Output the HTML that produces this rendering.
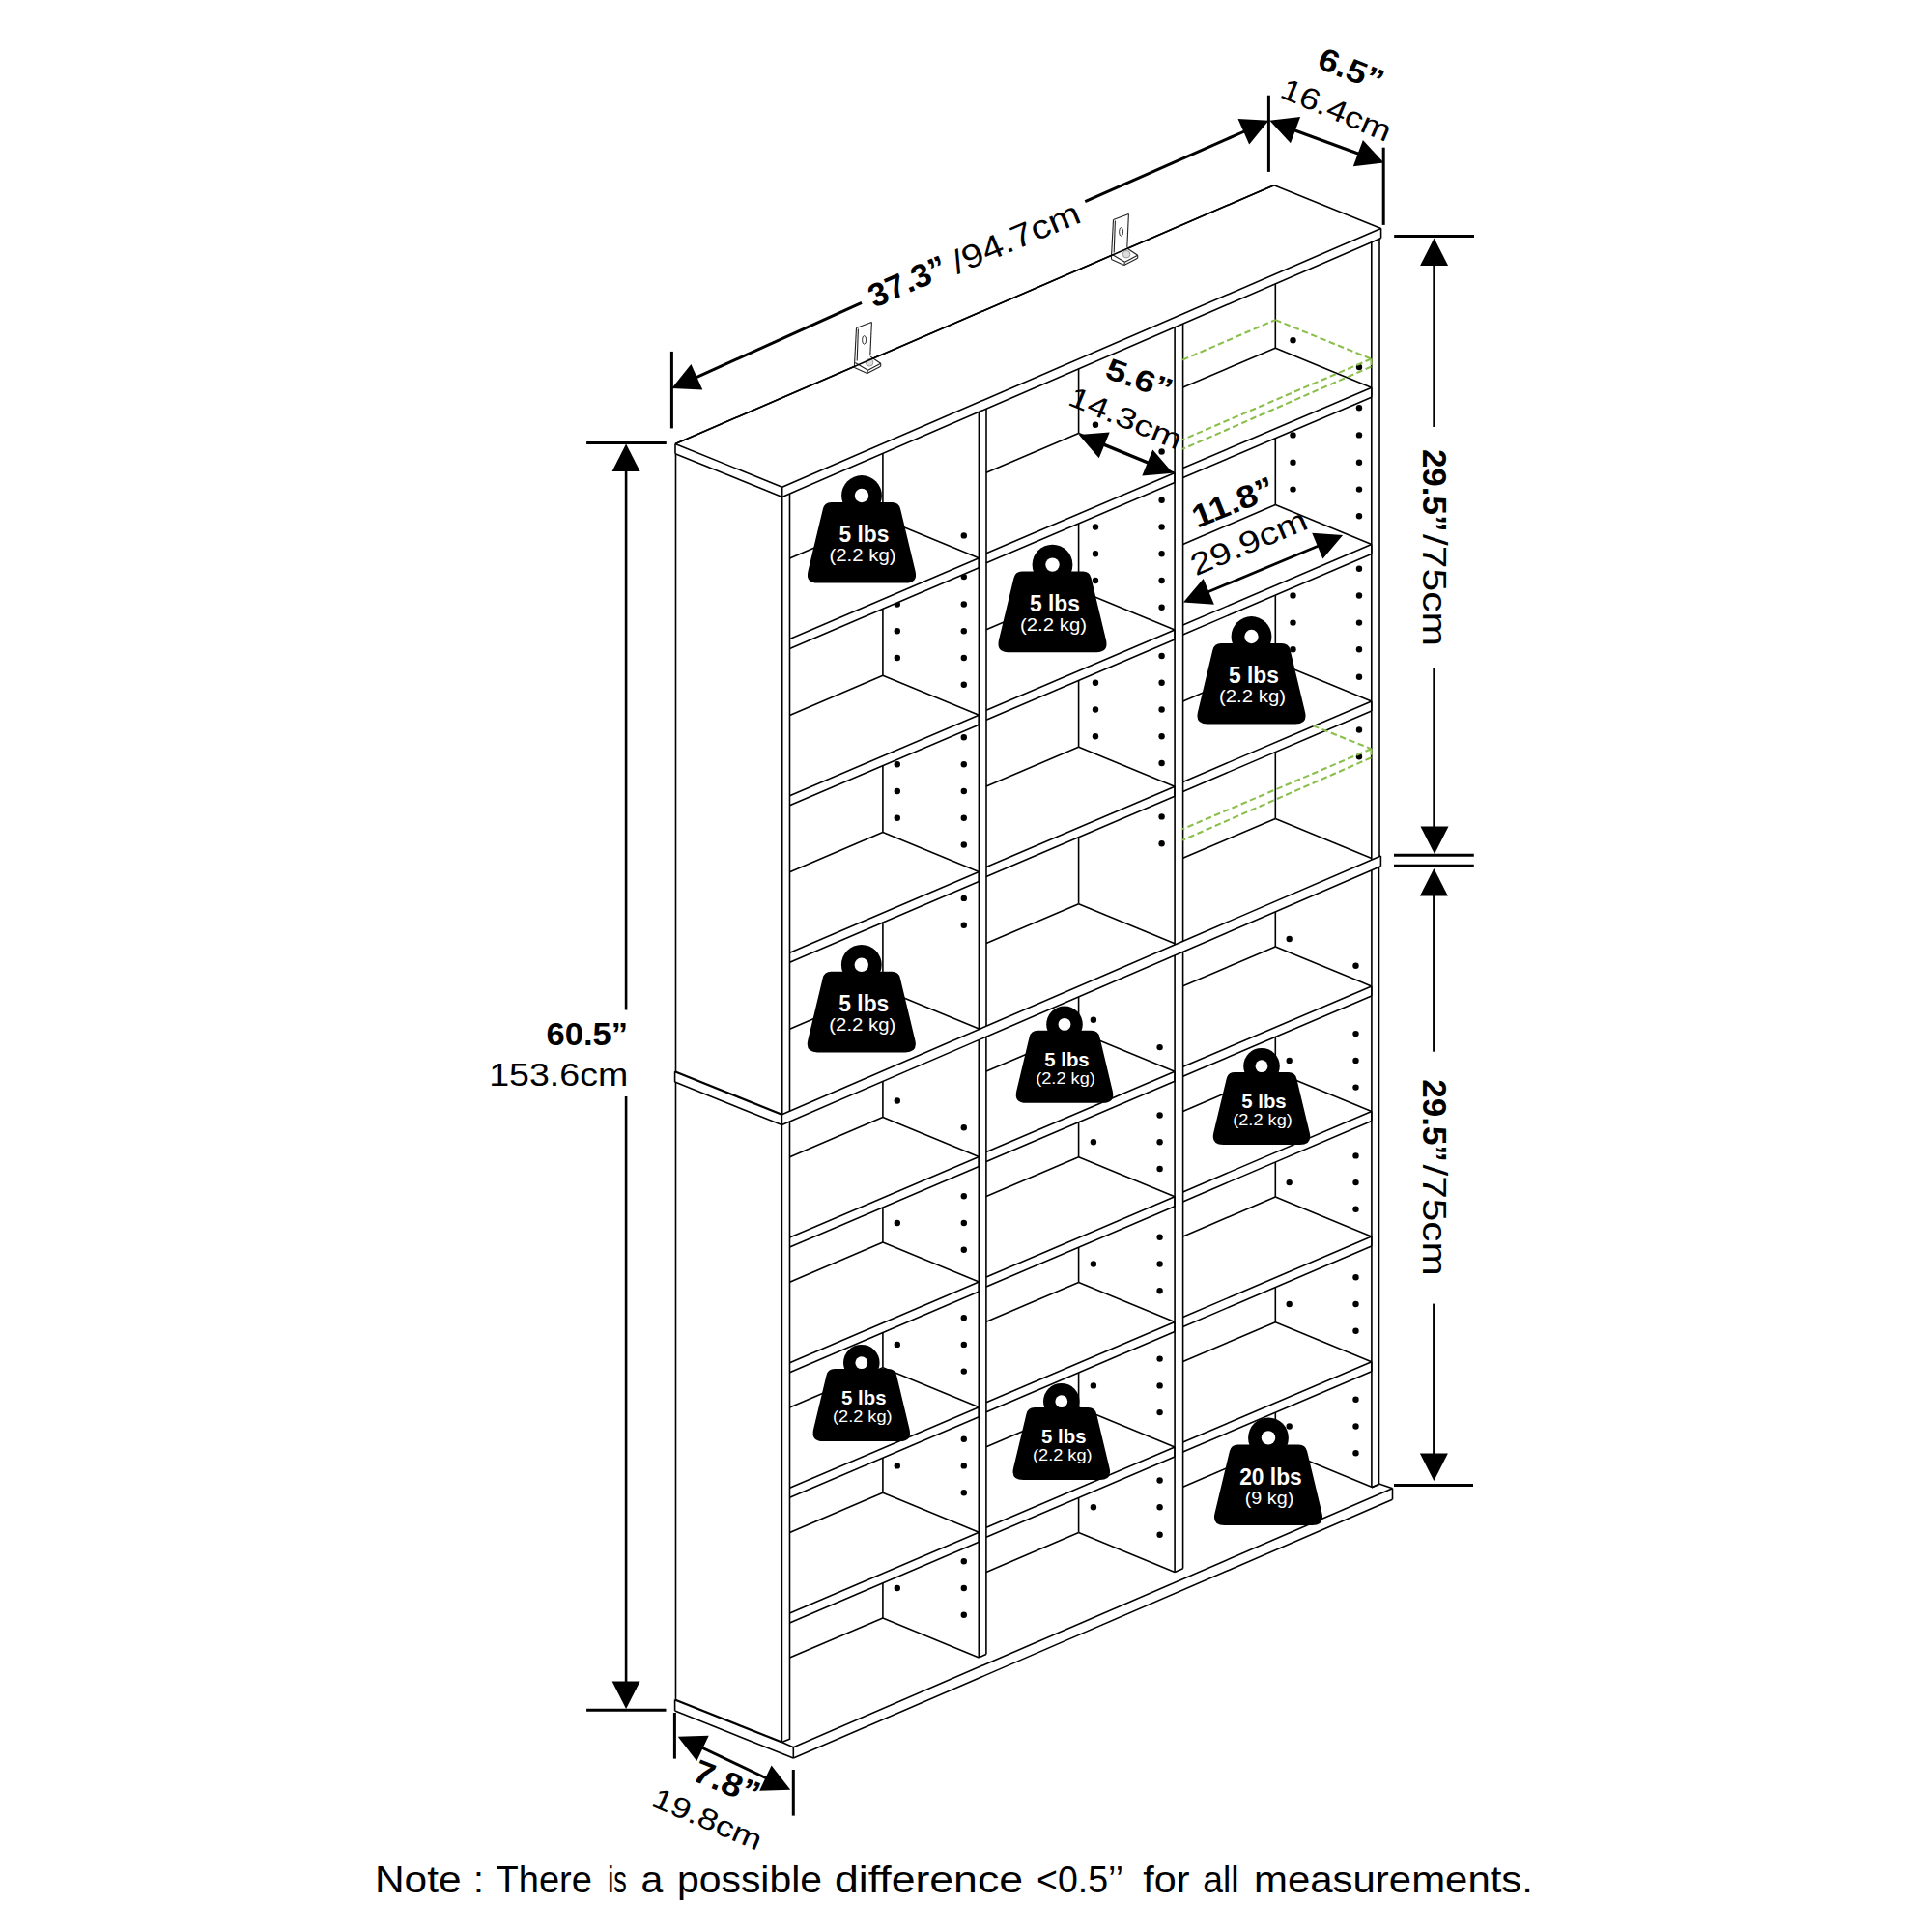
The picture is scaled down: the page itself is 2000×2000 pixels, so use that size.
<!DOCTYPE html>
<html><head><meta charset="utf-8"><title>Bookshelf dimensions</title>
<style>html,body{margin:0;padding:0;background:#fff;width:2000px;height:2000px;overflow:hidden}svg{display:block}</style>
</head><body>
<svg width="2000" height="2000" viewBox="0 0 2000 2000"><rect x="0" y="0" width="2000" height="2000" fill="#fff"/>
<line x1="913.9" y1="469.4" x2="913.9" y2="1024" stroke="#000" stroke-width="1.6"/>
<line x1="913.9" y1="1119.5" x2="913.9" y2="1674.9" stroke="#000" stroke-width="1.6"/>
<line x1="1116.6" y1="381.8" x2="1116.6" y2="935.7" stroke="#000" stroke-width="1.6"/>
<line x1="1116.6" y1="1031.9" x2="1116.6" y2="1586.6" stroke="#000" stroke-width="1.6"/>
<line x1="1320.3" y1="293.8" x2="1320.3" y2="847.4" stroke="#000" stroke-width="1.6"/>
<line x1="1320.3" y1="943.9" x2="1320.3" y2="1498.3" stroke="#000" stroke-width="1.6"/>
<circle cx="997.8" cy="554.4" r="3.2" fill="#000"/>
<circle cx="997.8" cy="597.1" r="3.2" fill="#000"/>
<circle cx="997.8" cy="625.5" r="3.2" fill="#000"/>
<circle cx="997.8" cy="653.2" r="3.2" fill="#000"/>
<circle cx="997.8" cy="681" r="3.2" fill="#000"/>
<circle cx="997.8" cy="708.7" r="3.2" fill="#000"/>
<circle cx="997.8" cy="763.2" r="3.2" fill="#000"/>
<circle cx="997.8" cy="791.2" r="3.2" fill="#000"/>
<circle cx="997.8" cy="819" r="3.2" fill="#000"/>
<circle cx="997.8" cy="846.7" r="3.2" fill="#000"/>
<circle cx="997.8" cy="874.5" r="3.2" fill="#000"/>
<circle cx="997.8" cy="929.9" r="3.2" fill="#000"/>
<circle cx="997.8" cy="957.7" r="3.2" fill="#000"/>
<circle cx="928.8" cy="625.5" r="3.2" fill="#000"/>
<circle cx="928.8" cy="653.2" r="3.2" fill="#000"/>
<circle cx="928.8" cy="681" r="3.2" fill="#000"/>
<circle cx="928.8" cy="791.2" r="3.2" fill="#000"/>
<circle cx="928.8" cy="819" r="3.2" fill="#000"/>
<circle cx="928.8" cy="846.7" r="3.2" fill="#000"/>
<circle cx="1202.6" cy="467.5" r="3.2" fill="#000"/>
<circle cx="1202.6" cy="517.8" r="3.2" fill="#000"/>
<circle cx="1202.6" cy="545.5" r="3.2" fill="#000"/>
<circle cx="1202.6" cy="573.2" r="3.2" fill="#000"/>
<circle cx="1202.6" cy="601" r="3.2" fill="#000"/>
<circle cx="1202.6" cy="628.7" r="3.2" fill="#000"/>
<circle cx="1202.6" cy="679" r="3.2" fill="#000"/>
<circle cx="1202.6" cy="706.7" r="3.2" fill="#000"/>
<circle cx="1202.6" cy="734.5" r="3.2" fill="#000"/>
<circle cx="1202.6" cy="762.2" r="3.2" fill="#000"/>
<circle cx="1202.6" cy="790" r="3.2" fill="#000"/>
<circle cx="1202.6" cy="845.4" r="3.2" fill="#000"/>
<circle cx="1202.6" cy="873.2" r="3.2" fill="#000"/>
<circle cx="1134" cy="439.8" r="3.2" fill="#000"/>
<circle cx="1134" cy="545.5" r="3.2" fill="#000"/>
<circle cx="1134" cy="573.2" r="3.2" fill="#000"/>
<circle cx="1134" cy="601" r="3.2" fill="#000"/>
<circle cx="1134" cy="706.7" r="3.2" fill="#000"/>
<circle cx="1134" cy="734.5" r="3.2" fill="#000"/>
<circle cx="1134" cy="762.2" r="3.2" fill="#000"/>
<circle cx="1407" cy="380" r="3.2" fill="#000"/>
<circle cx="1407" cy="422.3" r="3.2" fill="#000"/>
<circle cx="1407" cy="450.4" r="3.2" fill="#000"/>
<circle cx="1407" cy="478.8" r="3.2" fill="#000"/>
<circle cx="1407" cy="506.6" r="3.2" fill="#000"/>
<circle cx="1407" cy="534.3" r="3.2" fill="#000"/>
<circle cx="1407" cy="588.8" r="3.2" fill="#000"/>
<circle cx="1407" cy="616.5" r="3.2" fill="#000"/>
<circle cx="1407" cy="644.6" r="3.2" fill="#000"/>
<circle cx="1407" cy="672.3" r="3.2" fill="#000"/>
<circle cx="1407" cy="700.8" r="3.2" fill="#000"/>
<circle cx="1407" cy="755.5" r="3.2" fill="#000"/>
<circle cx="1407" cy="783.3" r="3.2" fill="#000"/>
<circle cx="1338.5" cy="352.3" r="3.2" fill="#000"/>
<circle cx="1338.5" cy="450.4" r="3.2" fill="#000"/>
<circle cx="1338.5" cy="478.8" r="3.2" fill="#000"/>
<circle cx="1338.5" cy="506.6" r="3.2" fill="#000"/>
<circle cx="1338.5" cy="616.5" r="3.2" fill="#000"/>
<circle cx="1338.5" cy="644.6" r="3.2" fill="#000"/>
<circle cx="1338.5" cy="672.3" r="3.2" fill="#000"/>
<circle cx="997.8" cy="1167.2" r="3.2" fill="#000"/>
<circle cx="997.8" cy="1238.3" r="3.2" fill="#000"/>
<circle cx="997.8" cy="1266" r="3.2" fill="#000"/>
<circle cx="997.8" cy="1293.8" r="3.2" fill="#000"/>
<circle cx="997.8" cy="1364.2" r="3.2" fill="#000"/>
<circle cx="997.8" cy="1391.9" r="3.2" fill="#000"/>
<circle cx="997.8" cy="1419.6" r="3.2" fill="#000"/>
<circle cx="997.8" cy="1489.7" r="3.2" fill="#000"/>
<circle cx="997.8" cy="1517.4" r="3.2" fill="#000"/>
<circle cx="997.8" cy="1545.2" r="3.2" fill="#000"/>
<circle cx="997.8" cy="1616.2" r="3.2" fill="#000"/>
<circle cx="997.8" cy="1644" r="3.2" fill="#000"/>
<circle cx="997.8" cy="1671.7" r="3.2" fill="#000"/>
<circle cx="928.8" cy="1139.5" r="3.2" fill="#000"/>
<circle cx="928.8" cy="1266" r="3.2" fill="#000"/>
<circle cx="928.8" cy="1391.9" r="3.2" fill="#000"/>
<circle cx="928.8" cy="1517.4" r="3.2" fill="#000"/>
<circle cx="928.8" cy="1644" r="3.2" fill="#000"/>
<circle cx="1200.6" cy="1084.1" r="3.2" fill="#000"/>
<circle cx="1200.6" cy="1154.5" r="3.2" fill="#000"/>
<circle cx="1200.6" cy="1182.3" r="3.2" fill="#000"/>
<circle cx="1200.6" cy="1210" r="3.2" fill="#000"/>
<circle cx="1200.6" cy="1280.7" r="3.2" fill="#000"/>
<circle cx="1200.6" cy="1308.5" r="3.2" fill="#000"/>
<circle cx="1200.6" cy="1336.2" r="3.2" fill="#000"/>
<circle cx="1200.6" cy="1406.6" r="3.2" fill="#000"/>
<circle cx="1200.6" cy="1434.4" r="3.2" fill="#000"/>
<circle cx="1200.6" cy="1462.1" r="3.2" fill="#000"/>
<circle cx="1200.6" cy="1532.5" r="3.2" fill="#000"/>
<circle cx="1200.6" cy="1560.2" r="3.2" fill="#000"/>
<circle cx="1200.6" cy="1588.7" r="3.2" fill="#000"/>
<circle cx="1131.9" cy="1055.7" r="3.2" fill="#000"/>
<circle cx="1131.9" cy="1182.3" r="3.2" fill="#000"/>
<circle cx="1131.9" cy="1308.5" r="3.2" fill="#000"/>
<circle cx="1131.9" cy="1434.4" r="3.2" fill="#000"/>
<circle cx="1131.9" cy="1560.2" r="3.2" fill="#000"/>
<circle cx="1403.5" cy="999.8" r="3.2" fill="#000"/>
<circle cx="1403.5" cy="1070.1" r="3.2" fill="#000"/>
<circle cx="1403.5" cy="1097.9" r="3.2" fill="#000"/>
<circle cx="1403.5" cy="1125.6" r="3.2" fill="#000"/>
<circle cx="1403.5" cy="1196.4" r="3.2" fill="#000"/>
<circle cx="1403.5" cy="1224.1" r="3.2" fill="#000"/>
<circle cx="1403.5" cy="1251.8" r="3.2" fill="#000"/>
<circle cx="1403.5" cy="1322.2" r="3.2" fill="#000"/>
<circle cx="1403.5" cy="1350" r="3.2" fill="#000"/>
<circle cx="1403.5" cy="1377.7" r="3.2" fill="#000"/>
<circle cx="1403.5" cy="1448.8" r="3.2" fill="#000"/>
<circle cx="1403.5" cy="1476.5" r="3.2" fill="#000"/>
<circle cx="1403.5" cy="1504.2" r="3.2" fill="#000"/>
<circle cx="1334.7" cy="972" r="3.2" fill="#000"/>
<circle cx="1334.7" cy="1097.9" r="3.2" fill="#000"/>
<circle cx="1334.7" cy="1224.1" r="3.2" fill="#000"/>
<circle cx="1334.7" cy="1350" r="3.2" fill="#000"/>
<circle cx="1334.7" cy="1476.5" r="3.2" fill="#000"/>
<polygon points="817.5,578 913.9,536.8 1013.4,577.8 1013.4,587.8 817.5,671.4" fill="#fff" stroke="none" stroke-width="1.4"/>
<line x1="817.5" y1="578" x2="913.9" y2="536.8" stroke="#000" stroke-width="1.6"/>
<line x1="913.9" y1="536.8" x2="1013.4" y2="577.8" stroke="#000" stroke-width="1.6"/>
<line x1="1013.4" y1="577.8" x2="817.5" y2="661.4" stroke="#000" stroke-width="1.6"/>
<line x1="1013.4" y1="577.8" x2="1013.4" y2="587.8" stroke="#000" stroke-width="1.6"/>
<line x1="1013.4" y1="587.8" x2="817.5" y2="671.4" stroke="#000" stroke-width="1.6"/>
<polygon points="817.5,740.4 913.9,699.2 1013.4,740.2 1013.4,750.2 817.5,833.8" fill="#fff" stroke="none" stroke-width="1.4"/>
<line x1="817.5" y1="740.4" x2="913.9" y2="699.2" stroke="#000" stroke-width="1.6"/>
<line x1="913.9" y1="699.2" x2="1013.4" y2="740.2" stroke="#000" stroke-width="1.6"/>
<line x1="1013.4" y1="740.2" x2="817.5" y2="823.8" stroke="#000" stroke-width="1.6"/>
<line x1="1013.4" y1="740.2" x2="1013.4" y2="750.2" stroke="#000" stroke-width="1.6"/>
<line x1="1013.4" y1="750.2" x2="817.5" y2="833.8" stroke="#000" stroke-width="1.6"/>
<polygon points="817.5,902.8 913.9,861.6 1013.4,902.6 1013.4,912.6 817.5,996.2" fill="#fff" stroke="none" stroke-width="1.4"/>
<line x1="817.5" y1="902.8" x2="913.9" y2="861.6" stroke="#000" stroke-width="1.6"/>
<line x1="913.9" y1="861.6" x2="1013.4" y2="902.6" stroke="#000" stroke-width="1.6"/>
<line x1="1013.4" y1="902.6" x2="817.5" y2="986.2" stroke="#000" stroke-width="1.6"/>
<line x1="1013.4" y1="902.6" x2="1013.4" y2="912.6" stroke="#000" stroke-width="1.6"/>
<line x1="1013.4" y1="912.6" x2="817.5" y2="996.2" stroke="#000" stroke-width="1.6"/>
<polygon points="817.5,1065.2 913.9,1024 1013.4,1065 817.5,1148.6" fill="#fff" stroke="none" stroke-width="1.4"/>
<line x1="817.5" y1="1065.2" x2="913.9" y2="1024" stroke="#000" stroke-width="1.6"/>
<line x1="913.9" y1="1024" x2="1013.4" y2="1065" stroke="#000" stroke-width="1.6"/>
<polygon points="817.5,1197.7 913.9,1156.5 1013.4,1197.5 1013.4,1207.5 817.5,1291.1" fill="#fff" stroke="none" stroke-width="1.4"/>
<line x1="817.5" y1="1197.7" x2="913.9" y2="1156.5" stroke="#000" stroke-width="1.6"/>
<line x1="913.9" y1="1156.5" x2="1013.4" y2="1197.5" stroke="#000" stroke-width="1.6"/>
<line x1="1013.4" y1="1197.5" x2="817.5" y2="1281.1" stroke="#000" stroke-width="1.6"/>
<line x1="1013.4" y1="1197.5" x2="1013.4" y2="1207.5" stroke="#000" stroke-width="1.6"/>
<line x1="1013.4" y1="1207.5" x2="817.5" y2="1291.1" stroke="#000" stroke-width="1.6"/>
<polygon points="817.5,1327.3 913.9,1286.1 1013.4,1327.1 1013.4,1337.1 817.5,1420.7" fill="#fff" stroke="none" stroke-width="1.4"/>
<line x1="817.5" y1="1327.3" x2="913.9" y2="1286.1" stroke="#000" stroke-width="1.6"/>
<line x1="913.9" y1="1286.1" x2="1013.4" y2="1327.1" stroke="#000" stroke-width="1.6"/>
<line x1="1013.4" y1="1327.1" x2="817.5" y2="1410.7" stroke="#000" stroke-width="1.6"/>
<line x1="1013.4" y1="1327.1" x2="1013.4" y2="1337.1" stroke="#000" stroke-width="1.6"/>
<line x1="1013.4" y1="1337.1" x2="817.5" y2="1420.7" stroke="#000" stroke-width="1.6"/>
<polygon points="817.5,1456.9 913.9,1415.7 1013.4,1456.7 1013.4,1466.7 817.5,1550.3" fill="#fff" stroke="none" stroke-width="1.4"/>
<line x1="817.5" y1="1456.9" x2="913.9" y2="1415.7" stroke="#000" stroke-width="1.6"/>
<line x1="913.9" y1="1415.7" x2="1013.4" y2="1456.7" stroke="#000" stroke-width="1.6"/>
<line x1="1013.4" y1="1456.7" x2="817.5" y2="1540.3" stroke="#000" stroke-width="1.6"/>
<line x1="1013.4" y1="1456.7" x2="1013.4" y2="1466.7" stroke="#000" stroke-width="1.6"/>
<line x1="1013.4" y1="1466.7" x2="817.5" y2="1550.3" stroke="#000" stroke-width="1.6"/>
<polygon points="817.5,1586.5 913.9,1545.3 1013.4,1586.3 1013.4,1596.3 817.5,1679.9" fill="#fff" stroke="none" stroke-width="1.4"/>
<line x1="817.5" y1="1586.5" x2="913.9" y2="1545.3" stroke="#000" stroke-width="1.6"/>
<line x1="913.9" y1="1545.3" x2="1013.4" y2="1586.3" stroke="#000" stroke-width="1.6"/>
<line x1="1013.4" y1="1586.3" x2="817.5" y2="1669.9" stroke="#000" stroke-width="1.6"/>
<line x1="1013.4" y1="1586.3" x2="1013.4" y2="1596.3" stroke="#000" stroke-width="1.6"/>
<line x1="1013.4" y1="1596.3" x2="817.5" y2="1679.9" stroke="#000" stroke-width="1.6"/>
<polygon points="817.5,1716.1 913.9,1674.9 1013.4,1715.9 817.5,1799.5" fill="#fff" stroke="none" stroke-width="1.4"/>
<line x1="817.5" y1="1716.1" x2="913.9" y2="1674.9" stroke="#000" stroke-width="1.6"/>
<line x1="913.9" y1="1674.9" x2="1013.4" y2="1715.9" stroke="#000" stroke-width="1.6"/>
<polygon points="1021,489.3 1116.6,448.5 1216.1,489.5 1216.1,499.5 1021,582.8" fill="#fff" stroke="none" stroke-width="1.4"/>
<line x1="1021" y1="489.3" x2="1116.6" y2="448.5" stroke="#000" stroke-width="1.6"/>
<line x1="1116.6" y1="448.5" x2="1216.1" y2="489.5" stroke="#000" stroke-width="1.6"/>
<line x1="1216.1" y1="489.5" x2="1021" y2="572.8" stroke="#000" stroke-width="1.6"/>
<line x1="1216.1" y1="489.5" x2="1216.1" y2="499.5" stroke="#000" stroke-width="1.6"/>
<line x1="1216.1" y1="499.5" x2="1021" y2="582.8" stroke="#000" stroke-width="1.6"/>
<polygon points="1021,651.7 1116.6,610.9 1216.1,651.9 1216.1,661.9 1021,745.2" fill="#fff" stroke="none" stroke-width="1.4"/>
<line x1="1021" y1="651.7" x2="1116.6" y2="610.9" stroke="#000" stroke-width="1.6"/>
<line x1="1116.6" y1="610.9" x2="1216.1" y2="651.9" stroke="#000" stroke-width="1.6"/>
<line x1="1216.1" y1="651.9" x2="1021" y2="735.2" stroke="#000" stroke-width="1.6"/>
<line x1="1216.1" y1="651.9" x2="1216.1" y2="661.9" stroke="#000" stroke-width="1.6"/>
<line x1="1216.1" y1="661.9" x2="1021" y2="745.2" stroke="#000" stroke-width="1.6"/>
<polygon points="1021,814.1 1116.6,773.3 1216.1,814.3 1216.1,824.3 1021,907.6" fill="#fff" stroke="none" stroke-width="1.4"/>
<line x1="1021" y1="814.1" x2="1116.6" y2="773.3" stroke="#000" stroke-width="1.6"/>
<line x1="1116.6" y1="773.3" x2="1216.1" y2="814.3" stroke="#000" stroke-width="1.6"/>
<line x1="1216.1" y1="814.3" x2="1021" y2="897.6" stroke="#000" stroke-width="1.6"/>
<line x1="1216.1" y1="814.3" x2="1216.1" y2="824.3" stroke="#000" stroke-width="1.6"/>
<line x1="1216.1" y1="824.3" x2="1021" y2="907.6" stroke="#000" stroke-width="1.6"/>
<polygon points="1021,976.5 1116.6,935.7 1216.1,976.7 1021,1060" fill="#fff" stroke="none" stroke-width="1.4"/>
<line x1="1021" y1="976.5" x2="1116.6" y2="935.7" stroke="#000" stroke-width="1.6"/>
<line x1="1116.6" y1="935.7" x2="1216.1" y2="976.7" stroke="#000" stroke-width="1.6"/>
<polygon points="1021,1109 1116.6,1068.2 1216.1,1109.2 1216.1,1119.2 1021,1202.5" fill="#fff" stroke="none" stroke-width="1.4"/>
<line x1="1021" y1="1109" x2="1116.6" y2="1068.2" stroke="#000" stroke-width="1.6"/>
<line x1="1116.6" y1="1068.2" x2="1216.1" y2="1109.2" stroke="#000" stroke-width="1.6"/>
<line x1="1216.1" y1="1109.2" x2="1021" y2="1192.5" stroke="#000" stroke-width="1.6"/>
<line x1="1216.1" y1="1109.2" x2="1216.1" y2="1119.2" stroke="#000" stroke-width="1.6"/>
<line x1="1216.1" y1="1119.2" x2="1021" y2="1202.5" stroke="#000" stroke-width="1.6"/>
<polygon points="1021,1238.6 1116.6,1197.8 1216.1,1238.8 1216.1,1248.8 1021,1332.1" fill="#fff" stroke="none" stroke-width="1.4"/>
<line x1="1021" y1="1238.6" x2="1116.6" y2="1197.8" stroke="#000" stroke-width="1.6"/>
<line x1="1116.6" y1="1197.8" x2="1216.1" y2="1238.8" stroke="#000" stroke-width="1.6"/>
<line x1="1216.1" y1="1238.8" x2="1021" y2="1322.1" stroke="#000" stroke-width="1.6"/>
<line x1="1216.1" y1="1238.8" x2="1216.1" y2="1248.8" stroke="#000" stroke-width="1.6"/>
<line x1="1216.1" y1="1248.8" x2="1021" y2="1332.1" stroke="#000" stroke-width="1.6"/>
<polygon points="1021,1368.2 1116.6,1327.4 1216.1,1368.4 1216.1,1378.4 1021,1461.7" fill="#fff" stroke="none" stroke-width="1.4"/>
<line x1="1021" y1="1368.2" x2="1116.6" y2="1327.4" stroke="#000" stroke-width="1.6"/>
<line x1="1116.6" y1="1327.4" x2="1216.1" y2="1368.4" stroke="#000" stroke-width="1.6"/>
<line x1="1216.1" y1="1368.4" x2="1021" y2="1451.7" stroke="#000" stroke-width="1.6"/>
<line x1="1216.1" y1="1368.4" x2="1216.1" y2="1378.4" stroke="#000" stroke-width="1.6"/>
<line x1="1216.1" y1="1378.4" x2="1021" y2="1461.7" stroke="#000" stroke-width="1.6"/>
<polygon points="1021,1497.8 1116.6,1457 1216.1,1498 1216.1,1508 1021,1591.3" fill="#fff" stroke="none" stroke-width="1.4"/>
<line x1="1021" y1="1497.8" x2="1116.6" y2="1457" stroke="#000" stroke-width="1.6"/>
<line x1="1116.6" y1="1457" x2="1216.1" y2="1498" stroke="#000" stroke-width="1.6"/>
<line x1="1216.1" y1="1498" x2="1021" y2="1581.3" stroke="#000" stroke-width="1.6"/>
<line x1="1216.1" y1="1498" x2="1216.1" y2="1508" stroke="#000" stroke-width="1.6"/>
<line x1="1216.1" y1="1508" x2="1021" y2="1591.3" stroke="#000" stroke-width="1.6"/>
<polygon points="1021,1627.4 1116.6,1586.6 1216.1,1627.6 1021,1710.9" fill="#fff" stroke="none" stroke-width="1.4"/>
<line x1="1021" y1="1627.4" x2="1116.6" y2="1586.6" stroke="#000" stroke-width="1.6"/>
<line x1="1116.6" y1="1586.6" x2="1216.1" y2="1627.6" stroke="#000" stroke-width="1.6"/>
<polygon points="1224.6,401.1 1320.3,360.2 1419.8,401.2 1419.8,411.2 1224.6,494.6" fill="#fff" stroke="none" stroke-width="1.4"/>
<line x1="1224.6" y1="401.1" x2="1320.3" y2="360.2" stroke="#000" stroke-width="1.6"/>
<line x1="1320.3" y1="360.2" x2="1419.8" y2="401.2" stroke="#000" stroke-width="1.6"/>
<line x1="1419.8" y1="401.2" x2="1224.6" y2="484.6" stroke="#000" stroke-width="1.6"/>
<line x1="1419.8" y1="401.2" x2="1419.8" y2="411.2" stroke="#000" stroke-width="1.6"/>
<line x1="1419.8" y1="411.2" x2="1224.6" y2="494.6" stroke="#000" stroke-width="1.6"/>
<polygon points="1224.6,563.5 1320.3,522.6 1419.8,563.6 1419.8,573.6 1224.6,657" fill="#fff" stroke="none" stroke-width="1.4"/>
<line x1="1224.6" y1="563.5" x2="1320.3" y2="522.6" stroke="#000" stroke-width="1.6"/>
<line x1="1320.3" y1="522.6" x2="1419.8" y2="563.6" stroke="#000" stroke-width="1.6"/>
<line x1="1419.8" y1="563.6" x2="1224.6" y2="647" stroke="#000" stroke-width="1.6"/>
<line x1="1419.8" y1="563.6" x2="1419.8" y2="573.6" stroke="#000" stroke-width="1.6"/>
<line x1="1419.8" y1="573.6" x2="1224.6" y2="657" stroke="#000" stroke-width="1.6"/>
<polygon points="1224.6,725.9 1320.3,685 1419.8,726 1419.8,736 1224.6,819.4" fill="#fff" stroke="none" stroke-width="1.4"/>
<line x1="1224.6" y1="725.9" x2="1320.3" y2="685" stroke="#000" stroke-width="1.6"/>
<line x1="1320.3" y1="685" x2="1419.8" y2="726" stroke="#000" stroke-width="1.6"/>
<line x1="1419.8" y1="726" x2="1224.6" y2="809.4" stroke="#000" stroke-width="1.6"/>
<line x1="1419.8" y1="726" x2="1419.8" y2="736" stroke="#000" stroke-width="1.6"/>
<line x1="1419.8" y1="736" x2="1224.6" y2="819.4" stroke="#000" stroke-width="1.6"/>
<polygon points="1224.6,888.3 1320.3,847.4 1419.8,888.4 1224.6,971.8" fill="#fff" stroke="none" stroke-width="1.4"/>
<line x1="1224.6" y1="888.3" x2="1320.3" y2="847.4" stroke="#000" stroke-width="1.6"/>
<line x1="1320.3" y1="847.4" x2="1419.8" y2="888.4" stroke="#000" stroke-width="1.6"/>
<polygon points="1224.6,1020.8 1320.3,979.9 1419.8,1020.9 1419.8,1030.9 1224.6,1114.3" fill="#fff" stroke="none" stroke-width="1.4"/>
<line x1="1224.6" y1="1020.8" x2="1320.3" y2="979.9" stroke="#000" stroke-width="1.6"/>
<line x1="1320.3" y1="979.9" x2="1419.8" y2="1020.9" stroke="#000" stroke-width="1.6"/>
<line x1="1419.8" y1="1020.9" x2="1224.6" y2="1104.3" stroke="#000" stroke-width="1.6"/>
<line x1="1419.8" y1="1020.9" x2="1419.8" y2="1030.9" stroke="#000" stroke-width="1.6"/>
<line x1="1419.8" y1="1030.9" x2="1224.6" y2="1114.3" stroke="#000" stroke-width="1.6"/>
<polygon points="1224.6,1150.4 1320.3,1109.5 1419.8,1150.5 1419.8,1160.5 1224.6,1243.9" fill="#fff" stroke="none" stroke-width="1.4"/>
<line x1="1224.6" y1="1150.4" x2="1320.3" y2="1109.5" stroke="#000" stroke-width="1.6"/>
<line x1="1320.3" y1="1109.5" x2="1419.8" y2="1150.5" stroke="#000" stroke-width="1.6"/>
<line x1="1419.8" y1="1150.5" x2="1224.6" y2="1233.9" stroke="#000" stroke-width="1.6"/>
<line x1="1419.8" y1="1150.5" x2="1419.8" y2="1160.5" stroke="#000" stroke-width="1.6"/>
<line x1="1419.8" y1="1160.5" x2="1224.6" y2="1243.9" stroke="#000" stroke-width="1.6"/>
<polygon points="1224.6,1280 1320.3,1239.1 1419.8,1280.1 1419.8,1290.1 1224.6,1373.5" fill="#fff" stroke="none" stroke-width="1.4"/>
<line x1="1224.6" y1="1280" x2="1320.3" y2="1239.1" stroke="#000" stroke-width="1.6"/>
<line x1="1320.3" y1="1239.1" x2="1419.8" y2="1280.1" stroke="#000" stroke-width="1.6"/>
<line x1="1419.8" y1="1280.1" x2="1224.6" y2="1363.5" stroke="#000" stroke-width="1.6"/>
<line x1="1419.8" y1="1280.1" x2="1419.8" y2="1290.1" stroke="#000" stroke-width="1.6"/>
<line x1="1419.8" y1="1290.1" x2="1224.6" y2="1373.5" stroke="#000" stroke-width="1.6"/>
<polygon points="1224.6,1409.6 1320.3,1368.7 1419.8,1409.7 1419.8,1419.7 1224.6,1503.1" fill="#fff" stroke="none" stroke-width="1.4"/>
<line x1="1224.6" y1="1409.6" x2="1320.3" y2="1368.7" stroke="#000" stroke-width="1.6"/>
<line x1="1320.3" y1="1368.7" x2="1419.8" y2="1409.7" stroke="#000" stroke-width="1.6"/>
<line x1="1419.8" y1="1409.7" x2="1224.6" y2="1493.1" stroke="#000" stroke-width="1.6"/>
<line x1="1419.8" y1="1409.7" x2="1419.8" y2="1419.7" stroke="#000" stroke-width="1.6"/>
<line x1="1419.8" y1="1419.7" x2="1224.6" y2="1503.1" stroke="#000" stroke-width="1.6"/>
<polygon points="1224.6,1539.2 1320.3,1498.3 1419.8,1539.3 1224.6,1622.7" fill="#fff" stroke="none" stroke-width="1.4"/>
<line x1="1224.6" y1="1539.2" x2="1320.3" y2="1498.3" stroke="#000" stroke-width="1.6"/>
<line x1="1320.3" y1="1498.3" x2="1419.8" y2="1539.3" stroke="#000" stroke-width="1.6"/>
<polygon points="699,459.5 1318.9,191.7 1429.6,236.4 1429.6,246.6 809.7,514.4 699,469.7" fill="#fff" stroke="none" stroke-width="1.4"/>
<line x1="699" y1="459.5" x2="1318.9" y2="191.7" stroke="#000" stroke-width="1.6"/>
<line x1="1318.9" y1="191.7" x2="1429.6" y2="236.4" stroke="#000" stroke-width="1.6"/>
<line x1="1429.6" y1="236.4" x2="809.7" y2="504.2" stroke="#000" stroke-width="1.6"/>
<line x1="699" y1="459.5" x2="809.7" y2="504.2" stroke="#000" stroke-width="1.6"/>
<line x1="809.7" y1="514.4" x2="1429.6" y2="246.6" stroke="#000" stroke-width="1.6"/>
<line x1="699" y1="469.7" x2="809.7" y2="514.4" stroke="#000" stroke-width="1.6"/>
<line x1="699" y1="459.5" x2="699" y2="469.7" stroke="#000" stroke-width="1.6"/>
<line x1="809.7" y1="504.2" x2="809.7" y2="514.4" stroke="#000" stroke-width="1.6"/>
<line x1="1429.6" y1="236.4" x2="1429.6" y2="246.6" stroke="#000" stroke-width="1.6"/>
<line x1="699.5" y1="469.7" x2="699.5" y2="1109.2" stroke="#000" stroke-width="1.6"/>
<line x1="809.7" y1="514.4" x2="809.7" y2="1153.7" stroke="#000" stroke-width="1.6"/>
<line x1="817.5" y1="511" x2="817.5" y2="1150.2" stroke="#000" stroke-width="1.6"/>
<line x1="1013.4" y1="426.4" x2="1013.4" y2="1065.6" stroke="#000" stroke-width="1.6"/>
<line x1="1021" y1="423.1" x2="1021" y2="1062.3" stroke="#000" stroke-width="1.6"/>
<line x1="1216.1" y1="338.8" x2="1216.1" y2="978" stroke="#000" stroke-width="1.6"/>
<line x1="1224.6" y1="335.2" x2="1224.6" y2="974.3" stroke="#000" stroke-width="1.6"/>
<line x1="1419.8" y1="250.8" x2="1419.8" y2="890" stroke="#000" stroke-width="1.6"/>
<line x1="1428" y1="247.3" x2="1428" y2="886.5" stroke="#000" stroke-width="1.6"/>
<polygon points="809.4,1153.7 1429.4,885.9 1429.4,896.8 809.4,1164.6 698.6,1120.1 698.6,1109.2" fill="#fff" stroke="none" stroke-width="1.4"/>
<line x1="809.4" y1="1153.7" x2="1429.4" y2="885.9" stroke="#000" stroke-width="1.6"/>
<line x1="809.4" y1="1164.6" x2="1429.4" y2="896.8" stroke="#000" stroke-width="1.6"/>
<line x1="809.4" y1="1153.7" x2="809.4" y2="1164.6" stroke="#000" stroke-width="1.6"/>
<line x1="1429.4" y1="885.9" x2="1429.4" y2="896.8" stroke="#000" stroke-width="1.6"/>
<line x1="698.6" y1="1109.2" x2="809.4" y2="1153.7" stroke="#000" stroke-width="2.3"/>
<line x1="698.6" y1="1120.1" x2="809.4" y2="1164.6" stroke="#000" stroke-width="1.6"/>
<line x1="698.6" y1="1109.2" x2="698.6" y2="1120.1" stroke="#000" stroke-width="1.6"/>
<line x1="699.5" y1="1120.1" x2="699.5" y2="1759.5" stroke="#000" stroke-width="1.6"/>
<line x1="809.4" y1="1164.6" x2="809.4" y2="1803.5" stroke="#000" stroke-width="1.6"/>
<line x1="817.5" y1="1161.1" x2="817.5" y2="1801" stroke="#000" stroke-width="1.6"/>
<line x1="809.4" y1="1803.5" x2="817.5" y2="1800.2" stroke="#000" stroke-width="1.6"/>
<line x1="1013.3" y1="1076.5" x2="1013.3" y2="1715.8" stroke="#000" stroke-width="1.6"/>
<line x1="1020.9" y1="1073.2" x2="1020.9" y2="1712.5" stroke="#000" stroke-width="1.6"/>
<line x1="1013.3" y1="1715.8" x2="1020.9" y2="1712.5" stroke="#000" stroke-width="1.6"/>
<line x1="1216.1" y1="988.9" x2="1216.1" y2="1627.5" stroke="#000" stroke-width="1.6"/>
<line x1="1224.6" y1="985.2" x2="1224.6" y2="1623.8" stroke="#000" stroke-width="1.6"/>
<line x1="1216.1" y1="1627.5" x2="1224.6" y2="1623.8" stroke="#000" stroke-width="1.6"/>
<line x1="1419.9" y1="900.9" x2="1419.9" y2="1539.7" stroke="#000" stroke-width="1.6"/>
<line x1="1427.5" y1="897.6" x2="1427.5" y2="1536.4" stroke="#000" stroke-width="1.6"/>
<line x1="1419.9" y1="1539.7" x2="1427.5" y2="1536.4" stroke="#000" stroke-width="1.6"/>
<polygon points="821.3,1808.7 1441.5,1540.8 1441.5,1552.2 821.3,1820.1 698.6,1770.9 698.6,1759.5" fill="#fff" stroke="none" stroke-width="1.4"/>
<line x1="821.3" y1="1808.7" x2="1441.5" y2="1540.8" stroke="#000" stroke-width="1.6"/>
<line x1="821.3" y1="1820.1" x2="1441.5" y2="1552.2" stroke="#000" stroke-width="1.6"/>
<line x1="821.3" y1="1808.7" x2="821.3" y2="1820.1" stroke="#000" stroke-width="1.6"/>
<line x1="1441.5" y1="1540.8" x2="1441.5" y2="1552.2" stroke="#000" stroke-width="1.6"/>
<line x1="698.6" y1="1759.5" x2="809.4" y2="1803.5" stroke="#000" stroke-width="2.3"/>
<line x1="809.4" y1="1803.5" x2="821.3" y2="1808.7" stroke="#000" stroke-width="1.6"/>
<line x1="698.6" y1="1770.9" x2="821.3" y2="1820.1" stroke="#000" stroke-width="1.6"/>
<line x1="698.6" y1="1759.5" x2="698.6" y2="1770.9" stroke="#000" stroke-width="1.6"/>
<line x1="1427.5" y1="1536.1" x2="1441.5" y2="1540.8" stroke="#000" stroke-width="1.6"/>
<line x1="1419.9" y1="1539.7" x2="1427.5" y2="1536.4" stroke="#000" stroke-width="1.6"/>
<polygon points="886.5,339.5 902.4,333.5 900.8,368.2 884.5,377.9" fill="#fff" stroke="none" stroke-width="1.4"/>
<polygon points="885.3,375.6 901.2,369.2 911.7,376.3 911.7,379.3 897.7,386.4 884.5,380.5" fill="#fff" stroke="none" stroke-width="1.4"/>
<line x1="886.5" y1="339.5" x2="902.4" y2="333.5" stroke="#222" stroke-width="1.1"/>
<line x1="886.5" y1="339.5" x2="884.5" y2="377.9" stroke="#222" stroke-width="1.1"/>
<line x1="888.4" y1="340.6" x2="887.2" y2="373.6" stroke="#222" stroke-width="1.1"/>
<line x1="902.4" y1="333.5" x2="900.8" y2="368.2" stroke="#222" stroke-width="1.1"/>
<line x1="885.3" y1="375.6" x2="898.5" y2="383.3" stroke="#222" stroke-width="1.1"/>
<line x1="898.5" y1="383.3" x2="911.7" y2="376.3" stroke="#222" stroke-width="1.1"/>
<line x1="911.7" y1="376.3" x2="901.2" y2="369.2" stroke="#222" stroke-width="1.1"/>
<line x1="884.5" y1="377.9" x2="884.5" y2="380.5" stroke="#222" stroke-width="1.1"/>
<line x1="884.5" y1="380.5" x2="897.7" y2="386.4" stroke="#222" stroke-width="1.1"/>
<line x1="897.7" y1="386.4" x2="911.7" y2="379.3" stroke="#222" stroke-width="1.1"/>
<line x1="911.7" y1="376.3" x2="911.7" y2="379.3" stroke="#222" stroke-width="1.1"/>
<line x1="898.5" y1="383.3" x2="897.7" y2="386.4" stroke="#222" stroke-width="1.1"/>
<circle cx="900.1" cy="375.2" r="3.8" fill="#ddd" stroke="#888" stroke-width="0.8"/>
<ellipse cx="894.6" cy="351.9" rx="2" ry="4.3" fill="none" stroke="#222" stroke-width="0.9"/>
<polygon points="1152.5,227.5 1168.4,221.5 1166.8,256.2 1150.5,265.9" fill="#fff" stroke="none" stroke-width="1.4"/>
<polygon points="1151.3,263.6 1167.2,257.2 1177.7,264.3 1177.7,267.3 1163.7,274.4 1150.5,268.5" fill="#fff" stroke="none" stroke-width="1.4"/>
<line x1="1152.5" y1="227.5" x2="1168.4" y2="221.5" stroke="#222" stroke-width="1.1"/>
<line x1="1152.5" y1="227.5" x2="1150.5" y2="265.9" stroke="#222" stroke-width="1.1"/>
<line x1="1154.4" y1="228.6" x2="1153.2" y2="261.6" stroke="#222" stroke-width="1.1"/>
<line x1="1168.4" y1="221.5" x2="1166.8" y2="256.2" stroke="#222" stroke-width="1.1"/>
<line x1="1151.3" y1="263.6" x2="1164.5" y2="271.3" stroke="#222" stroke-width="1.1"/>
<line x1="1164.5" y1="271.3" x2="1177.7" y2="264.3" stroke="#222" stroke-width="1.1"/>
<line x1="1177.7" y1="264.3" x2="1167.2" y2="257.2" stroke="#222" stroke-width="1.1"/>
<line x1="1150.5" y1="265.9" x2="1150.5" y2="268.5" stroke="#222" stroke-width="1.1"/>
<line x1="1150.5" y1="268.5" x2="1163.7" y2="274.4" stroke="#222" stroke-width="1.1"/>
<line x1="1163.7" y1="274.4" x2="1177.7" y2="267.3" stroke="#222" stroke-width="1.1"/>
<line x1="1177.7" y1="264.3" x2="1177.7" y2="267.3" stroke="#222" stroke-width="1.1"/>
<line x1="1164.5" y1="271.3" x2="1163.7" y2="274.4" stroke="#222" stroke-width="1.1"/>
<circle cx="1166.1" cy="263.2" r="3.8" fill="#ddd" stroke="#888" stroke-width="0.8"/>
<ellipse cx="1160.6" cy="239.9" rx="2" ry="4.3" fill="none" stroke="#222" stroke-width="0.9"/>
<line x1="699" y1="459.5" x2="1318.9" y2="191.7" stroke="#000" stroke-width="1.6"/>
<line x1="1224.2" y1="372.6" x2="1320.2" y2="331.1" stroke="#8bbf4c" stroke-width="2.1" stroke-dasharray="6.5,3.5"/>
<line x1="1320.2" y1="331.1" x2="1419.5" y2="371.5" stroke="#8bbf4c" stroke-width="2.1" stroke-dasharray="6.5,3.5"/>
<line x1="1419.5" y1="371.5" x2="1419.5" y2="379.5" stroke="#8bbf4c" stroke-width="2.1" stroke-dasharray="6.5,3.5"/>
<line x1="1419.5" y1="371.5" x2="1224.2" y2="455.2" stroke="#8bbf4c" stroke-width="2.1" stroke-dasharray="6.5,3.5"/>
<line x1="1419.5" y1="379.5" x2="1224.2" y2="464.9" stroke="#8bbf4c" stroke-width="2.1" stroke-dasharray="6.5,3.5"/>
<line x1="1359.2" y1="751.2" x2="1419.5" y2="775.2" stroke="#8bbf4c" stroke-width="2.1" stroke-dasharray="6.5,3.5"/>
<line x1="1419.5" y1="775.2" x2="1419.5" y2="784.3" stroke="#8bbf4c" stroke-width="2.1" stroke-dasharray="6.5,3.5"/>
<line x1="1419.5" y1="775.2" x2="1224.2" y2="858.3" stroke="#8bbf4c" stroke-width="2.1" stroke-dasharray="6.5,3.5"/>
<line x1="1419.5" y1="784.3" x2="1224.2" y2="869.7" stroke="#8bbf4c" stroke-width="2.1" stroke-dasharray="6.5,3.5"/>
<path d="M851.9,526.8 Q853.5,520 860.5,520 L923.5,520 Q930.5,520 932.1,526.8 L947.5,591 Q950.5,603.6 937.5,603.6 L846.5,603.6 Q833.5,603.6 836.5,591 Z" fill="#000"/>
<circle cx="892" cy="513" r="20.9" fill="#000"/>
<circle cx="892" cy="513" r="7.2" fill="#fff"/>
<text x="894.5" y="561.2" font-family="Liberation Sans" font-weight="bold" font-size="23.3" fill="#fff" text-anchor="middle" textLength="52" lengthAdjust="spacingAndGlyphs">5 lbs</text>
<text x="893" y="581.4" font-family="Liberation Sans" font-size="19.0" fill="#fff" text-anchor="middle" textLength="69" lengthAdjust="spacingAndGlyphs">(2.2 kg)</text>
<path d="M1049.4,598.4 Q1051,591.6 1058,591.6 L1121,591.6 Q1128,591.6 1129.6,598.4 L1145,662.6 Q1148,675.2 1135,675.2 L1044,675.2 Q1031,675.2 1034,662.6 Z" fill="#000"/>
<circle cx="1089.5" cy="584.6" r="20.9" fill="#000"/>
<circle cx="1089.5" cy="584.6" r="7.2" fill="#fff"/>
<text x="1092" y="632.8" font-family="Liberation Sans" font-weight="bold" font-size="23.3" fill="#fff" text-anchor="middle" textLength="52" lengthAdjust="spacingAndGlyphs">5 lbs</text>
<text x="1090.5" y="653" font-family="Liberation Sans" font-size="19.0" fill="#fff" text-anchor="middle" textLength="69" lengthAdjust="spacingAndGlyphs">(2.2 kg)</text>
<path d="M1255.4,672.8 Q1257,666 1264,666 L1327,666 Q1334,666 1335.6,672.8 L1351,737 Q1354,749.6 1341,749.6 L1250,749.6 Q1237,749.6 1240,737 Z" fill="#000"/>
<circle cx="1295.5" cy="659" r="20.9" fill="#000"/>
<circle cx="1295.5" cy="659" r="7.2" fill="#fff"/>
<text x="1298" y="707.2" font-family="Liberation Sans" font-weight="bold" font-size="23.3" fill="#fff" text-anchor="middle" textLength="52" lengthAdjust="spacingAndGlyphs">5 lbs</text>
<text x="1296.5" y="727.4" font-family="Liberation Sans" font-size="19.0" fill="#fff" text-anchor="middle" textLength="69" lengthAdjust="spacingAndGlyphs">(2.2 kg)</text>
<path d="M851.7,1012.6 Q853.3,1005.8 860.3,1005.8 L923.3,1005.8 Q930.3,1005.8 931.9,1012.6 L947.3,1076.8 Q950.3,1089.4 937.3,1089.4 L846.3,1089.4 Q833.3,1089.4 836.3,1076.8 Z" fill="#000"/>
<circle cx="891.8" cy="998.8" r="20.9" fill="#000"/>
<circle cx="891.8" cy="998.8" r="7.2" fill="#fff"/>
<text x="894.3" y="1047" font-family="Liberation Sans" font-weight="bold" font-size="23.3" fill="#fff" text-anchor="middle" textLength="52" lengthAdjust="spacingAndGlyphs">5 lbs</text>
<text x="892.8" y="1067.2" font-family="Liberation Sans" font-size="19.0" fill="#fff" text-anchor="middle" textLength="69" lengthAdjust="spacingAndGlyphs">(2.2 kg)</text>
<path d="M1065.6,1073.6 Q1067.2,1066.8 1074.2,1066.8 L1129.8,1066.8 Q1136.8,1066.8 1138.4,1073.6 L1151.7,1129.2 Q1154.7,1141.8 1141.7,1141.8 L1062.3,1141.8 Q1049.3,1141.8 1052.3,1129.2 Z" fill="#000"/>
<circle cx="1102" cy="1060.4" r="18.8" fill="#000"/>
<circle cx="1102" cy="1060.4" r="6.4" fill="#fff"/>
<text x="1104.5" y="1103.8" font-family="Liberation Sans" font-weight="bold" font-size="21.0" fill="#fff" text-anchor="middle" textLength="46.4" lengthAdjust="spacingAndGlyphs">5 lbs</text>
<text x="1103" y="1121.9" font-family="Liberation Sans" font-size="16.5" fill="#fff" text-anchor="middle" textLength="61.6" lengthAdjust="spacingAndGlyphs">(2.2 kg)</text>
<path d="M1269.6,1116.9 Q1271.2,1110.1 1278.2,1110.1 L1333.8,1110.1 Q1340.8,1110.1 1342.4,1116.9 L1355.7,1172.5 Q1358.7,1185.1 1345.7,1185.1 L1266.3,1185.1 Q1253.3,1185.1 1256.3,1172.5 Z" fill="#000"/>
<circle cx="1306" cy="1103.7" r="18.8" fill="#000"/>
<circle cx="1306" cy="1103.7" r="6.4" fill="#fff"/>
<text x="1308.5" y="1147.1" font-family="Liberation Sans" font-weight="bold" font-size="21.0" fill="#fff" text-anchor="middle" textLength="46.4" lengthAdjust="spacingAndGlyphs">5 lbs</text>
<text x="1307" y="1165.2" font-family="Liberation Sans" font-size="16.5" fill="#fff" text-anchor="middle" textLength="61.6" lengthAdjust="spacingAndGlyphs">(2.2 kg)</text>
<path d="M855.4,1423.9 Q857,1417.1 864,1417.1 L919.6,1417.1 Q926.6,1417.1 928.2,1423.9 L941.5,1479.5 Q944.5,1492.1 931.5,1492.1 L852.1,1492.1 Q839.1,1492.1 842.1,1479.5 Z" fill="#000"/>
<circle cx="891.8" cy="1410.7" r="18.8" fill="#000"/>
<circle cx="891.8" cy="1410.7" r="6.4" fill="#fff"/>
<text x="894.3" y="1454.1" font-family="Liberation Sans" font-weight="bold" font-size="21.0" fill="#fff" text-anchor="middle" textLength="46.4" lengthAdjust="spacingAndGlyphs">5 lbs</text>
<text x="892.8" y="1472.2" font-family="Liberation Sans" font-size="16.5" fill="#fff" text-anchor="middle" textLength="61.6" lengthAdjust="spacingAndGlyphs">(2.2 kg)</text>
<path d="M1062.4,1463.9 Q1064,1457.1 1071,1457.1 L1126.6,1457.1 Q1133.6,1457.1 1135.2,1463.9 L1148.5,1519.5 Q1151.5,1532.1 1138.5,1532.1 L1059.1,1532.1 Q1046.1,1532.1 1049.1,1519.5 Z" fill="#000"/>
<circle cx="1098.8" cy="1450.7" r="18.8" fill="#000"/>
<circle cx="1098.8" cy="1450.7" r="6.4" fill="#fff"/>
<text x="1101.3" y="1494.1" font-family="Liberation Sans" font-weight="bold" font-size="21.0" fill="#fff" text-anchor="middle" textLength="46.4" lengthAdjust="spacingAndGlyphs">5 lbs</text>
<text x="1099.8" y="1512.2" font-family="Liberation Sans" font-size="16.5" fill="#fff" text-anchor="middle" textLength="61.6" lengthAdjust="spacingAndGlyphs">(2.2 kg)</text>
<path d="M1272.9,1502.2 Q1274.5,1495.4 1281.5,1495.4 L1344.5,1495.4 Q1351.5,1495.4 1353.1,1502.2 L1368.5,1566.4 Q1371.5,1579 1358.5,1579 L1267.5,1579 Q1254.5,1579 1257.5,1566.4 Z" fill="#000"/>
<circle cx="1313" cy="1488.4" r="20.9" fill="#000"/>
<circle cx="1313" cy="1488.4" r="7.2" fill="#fff"/>
<text x="1315.5" y="1536.6" font-family="Liberation Sans" font-weight="bold" font-size="23.3" fill="#fff" text-anchor="middle" textLength="64.6" lengthAdjust="spacingAndGlyphs">20 lbs</text>
<text x="1314" y="1556.8" font-family="Liberation Sans" font-size="19.0" fill="#fff" text-anchor="middle" textLength="50.5" lengthAdjust="spacingAndGlyphs">(9 kg)</text>
<line x1="607.1" y1="458.4" x2="689.8" y2="458.4" stroke="#000" stroke-width="3.0"/>
<line x1="607.1" y1="1770.2" x2="689.5" y2="1770.2" stroke="#000" stroke-width="3.0"/>
<polygon points="648.1,459.6 633.6,488.1 662.6,488.1" fill="#000" stroke="none" stroke-width="1.4"/>
<polygon points="648.1,1769 662.6,1740.5 633.6,1740.5" fill="#000" stroke="none" stroke-width="1.4"/>
<line x1="648.1" y1="487" x2="648.1" y2="1045.5" stroke="#000" stroke-width="2.6"/>
<line x1="648.1" y1="1134.9" x2="648.1" y2="1741" stroke="#000" stroke-width="2.6"/>
<line x1="695.4" y1="363.9" x2="695.4" y2="443.4" stroke="#000" stroke-width="3.0"/>
<line x1="1313.4" y1="98.7" x2="1313.4" y2="177.9" stroke="#000" stroke-width="3.0"/>
<polygon points="695.4,402 727.3,403.5 715.4,377.1" fill="#000" stroke="none" stroke-width="1.4"/>
<polygon points="1313.4,124.8 1281.5,123 1293.2,149.6" fill="#000" stroke="none" stroke-width="1.4"/>
<line x1="719.8" y1="391.2" x2="892" y2="313.3" stroke="#000" stroke-width="3.0"/>
<line x1="1123.3" y1="208.6" x2="1288.2" y2="136" stroke="#000" stroke-width="3.0"/>
<line x1="1432.2" y1="152.7" x2="1432.2" y2="232.9" stroke="#000" stroke-width="3.0"/>
<polygon points="1314.3,124.8 1336,148.3 1346.1,121.1" fill="#000" stroke="none" stroke-width="1.4"/>
<polygon points="1432.6,168.6 1410.9,145.1 1400.8,172.3" fill="#000" stroke="none" stroke-width="1.4"/>
<line x1="1335" y1="133" x2="1410" y2="160.5" stroke="#000" stroke-width="3.0"/>
<line x1="1443.2" y1="244.5" x2="1526" y2="244.5" stroke="#000" stroke-width="3.0"/>
<polygon points="1484.6,246.6 1470.1,275.1 1499.1,275.1" fill="#000" stroke="none" stroke-width="1.4"/>
<line x1="1484.6" y1="274" x2="1484.6" y2="442" stroke="#000" stroke-width="2.6"/>
<line x1="1484.6" y1="691.7" x2="1484.6" y2="858" stroke="#000" stroke-width="2.6"/>
<polygon points="1485,884 1499.5,855.5 1470.5,855.5" fill="#000" stroke="none" stroke-width="1.4"/>
<line x1="1443" y1="885.3" x2="1525.8" y2="885.3" stroke="#000" stroke-width="3.0"/>
<line x1="1443" y1="896.3" x2="1525.8" y2="896.3" stroke="#000" stroke-width="3.0"/>
<polygon points="1484.4,899 1469.9,927.5 1498.9,927.5" fill="#000" stroke="none" stroke-width="1.4"/>
<line x1="1484.4" y1="927" x2="1484.4" y2="1088.7" stroke="#000" stroke-width="2.6"/>
<line x1="1484.4" y1="1349.6" x2="1484.4" y2="1508" stroke="#000" stroke-width="2.6"/>
<polygon points="1484.4,1533 1498.9,1504.5 1469.9,1504.5" fill="#000" stroke="none" stroke-width="1.4"/>
<line x1="1443" y1="1537.6" x2="1525" y2="1537.6" stroke="#000" stroke-width="3.0"/>
<line x1="698.4" y1="1773" x2="698.4" y2="1820.6" stroke="#000" stroke-width="3.0"/>
<line x1="821.3" y1="1832" x2="821.3" y2="1879.6" stroke="#000" stroke-width="3.0"/>
<polygon points="701.7,1797.8 721.3,1823.1 733.7,1796.8" fill="#000" stroke="none" stroke-width="1.4"/>
<polygon points="818.2,1852.7 798.6,1827.4 786.2,1853.7" fill="#000" stroke="none" stroke-width="1.4"/>
<line x1="720" y1="1806" x2="800" y2="1844" stroke="#000" stroke-width="3.0"/>
<polygon points="1116.8,450.1 1137.7,474.3 1148.7,447.4" fill="#000" stroke="none" stroke-width="1.4"/>
<polygon points="1214.2,489.7 1193.3,465.5 1182.3,492.4" fill="#000" stroke="none" stroke-width="1.4"/>
<line x1="1140" y1="459.5" x2="1190" y2="480" stroke="#000" stroke-width="2.8"/>
<polygon points="1225,623.4 1256.9,625.7 1245.7,599" fill="#000" stroke="none" stroke-width="1.4"/>
<polygon points="1390.1,554 1358.2,551.7 1369.4,578.4" fill="#000" stroke="none" stroke-width="1.4"/>
<line x1="1250" y1="613" x2="1365" y2="565" stroke="#000" stroke-width="2.8"/>
<text x="650" y="1081.5" font-family="Liberation Sans" font-size="34" font-weight="bold" text-anchor="end" textLength="84.5" lengthAdjust="spacingAndGlyphs" fill="#000">60.5”</text>
<text x="650.2" y="1123.7" font-family="Liberation Sans" font-size="34" text-anchor="end" textLength="144" lengthAdjust="spacingAndGlyphs" fill="#000">153.6cm</text>
<text x="387.9" y="1958.5" font-family="Liberation Sans" font-size="39" textLength="89.7" lengthAdjust="spacingAndGlyphs" fill="#000">Note</text>
<text x="495.5" y="1958.5" font-family="Liberation Sans" font-size="39" text-anchor="middle" fill="#000">:</text>
<text x="513.5" y="1958.5" font-family="Liberation Sans" font-size="39" textLength="99.4" lengthAdjust="spacingAndGlyphs" fill="#000">There</text>
<text x="629.2" y="1958.5" font-family="Liberation Sans" font-size="39" textLength="19.6" lengthAdjust="spacingAndGlyphs" fill="#000">is</text>
<text x="663.5" y="1958.5" font-family="Liberation Sans" font-size="39" textLength="22.8" lengthAdjust="spacingAndGlyphs" fill="#000">a</text>
<text x="701" y="1958.5" font-family="Liberation Sans" font-size="39" textLength="150" lengthAdjust="spacingAndGlyphs" fill="#000">possible</text>
<text x="864" y="1958.5" font-family="Liberation Sans" font-size="39" textLength="195" lengthAdjust="spacingAndGlyphs" fill="#000">difference</text>
<text x="1073" y="1958.5" font-family="Liberation Sans" font-size="39" textLength="90" lengthAdjust="spacingAndGlyphs" fill="#000">&lt;0.5’’</text>
<text x="1183.2" y="1958.5" font-family="Liberation Sans" font-size="39" textLength="48.2" lengthAdjust="spacingAndGlyphs" fill="#000">for</text>
<text x="1245.3" y="1958.5" font-family="Liberation Sans" font-size="39" textLength="37.3" lengthAdjust="spacingAndGlyphs" fill="#000">all</text>
<text x="1298" y="1958.5" font-family="Liberation Sans" font-size="39" textLength="289" lengthAdjust="spacingAndGlyphs" fill="#000">measurements.</text>
<text transform="translate(905,319) rotate(-23.5)" font-family="Liberation Sans" font-size="34" font-weight="bold" textLength="85" lengthAdjust="spacingAndGlyphs" fill="#000">37.3”</text>
<text transform="translate(991,284) rotate(-22.8)" font-family="Liberation Sans" font-size="34" textLength="141" lengthAdjust="spacingAndGlyphs" fill="#000">/94.7cm</text>
<text transform="translate(1473,464.9) rotate(90)" font-family="Liberation Sans" font-size="35" font-weight="bold" textLength="85.5" lengthAdjust="spacingAndGlyphs" fill="#000">29.5”</text>
<text transform="translate(1473,553) rotate(90)" font-family="Liberation Sans" font-size="35" textLength="116" lengthAdjust="spacingAndGlyphs" fill="#000">/75cm</text>
<text transform="translate(1473,1117.3) rotate(90)" font-family="Liberation Sans" font-size="35" font-weight="bold" textLength="85.5" lengthAdjust="spacingAndGlyphs" fill="#000">29.5”</text>
<text transform="translate(1473,1205.4) rotate(90)" font-family="Liberation Sans" font-size="35" textLength="115.5" lengthAdjust="spacingAndGlyphs" fill="#000">/75cm</text>
<text transform="translate(1362,69.5) rotate(22)" font-family="Liberation Sans" font-size="33" font-weight="bold" textLength="70" lengthAdjust="spacingAndGlyphs" fill="#000">6.5”</text>
<text transform="translate(1323.5,100) rotate(23)" font-family="Liberation Sans" font-size="31" textLength="121" lengthAdjust="spacingAndGlyphs" fill="#000">16.4cm</text>
<text transform="translate(715,1842.5) rotate(22)" font-family="Liberation Sans" font-size="34" font-weight="bold" textLength="71" lengthAdjust="spacingAndGlyphs" fill="#000">7.8”</text>
<text transform="translate(673,1869) rotate(23)" font-family="Liberation Sans" font-size="30" textLength="120" lengthAdjust="spacingAndGlyphs" fill="#000">19.8cm</text>
<text transform="translate(1142.5,390.5) rotate(19.5)" font-family="Liberation Sans" font-size="31" font-weight="bold" textLength="71" lengthAdjust="spacingAndGlyphs" fill="#000">5.6”</text>
<text transform="translate(1104,418.5) rotate(22.5)" font-family="Liberation Sans" font-size="30" textLength="124" lengthAdjust="spacingAndGlyphs" fill="#000">14.3cm</text>
<text transform="translate(1239.5,547) rotate(-22)" font-family="Liberation Sans" font-size="33" font-weight="bold" textLength="89" lengthAdjust="spacingAndGlyphs" fill="#000">11.8”</text>
<text transform="translate(1238,596.5) rotate(-23)" font-family="Liberation Sans" font-size="32" textLength="128" lengthAdjust="spacingAndGlyphs" fill="#000">29.9cm</text></svg>
</body></html>
